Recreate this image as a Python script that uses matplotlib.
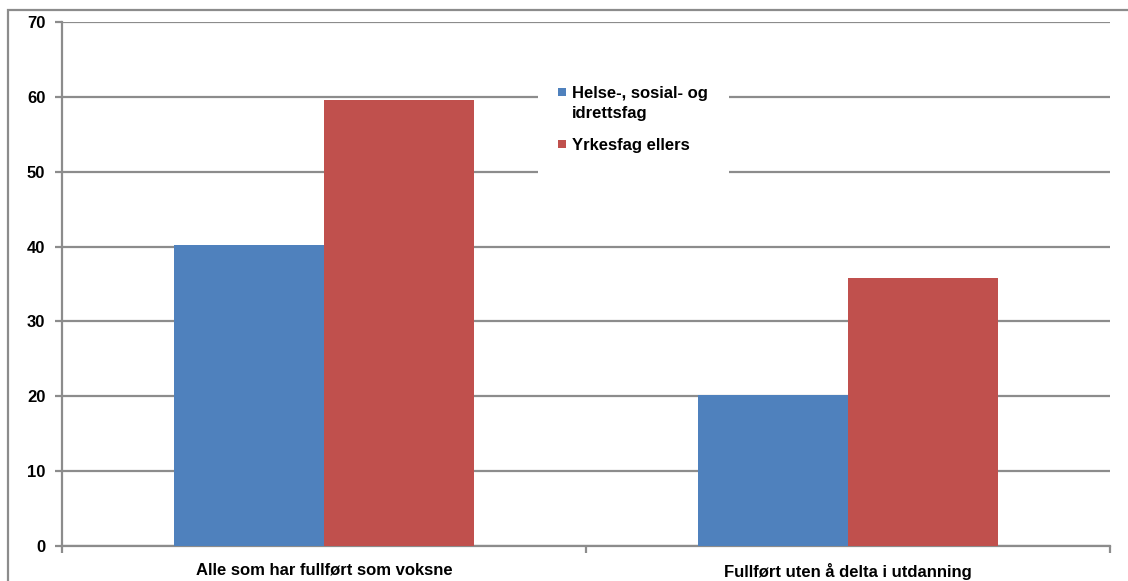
import matplotlib
matplotlib.use("Agg")
import matplotlib.pyplot as plt
from matplotlib.patches import Rectangle
import numpy as np

categories = ["Alle som har fullført som voksne", "Fullført uten å delta i utdanning"]
series_names = ["Helse-, sosial- og\nidrettsfag", "Yrkesfag ellers"]
helse = [40.2, 20.2]
yrkesfag = [59.6, 35.8]
yticks = [0, 10, 20, 30, 40, 50, 60, 70]

colors = ["#4F81BD", "#C0504D"]
grid_color = "#8C8C8C"

plt.rcParams['font.family'] = ['Liberation Sans', 'DejaVu Sans']
FS = 12

W, H = 1128, 581
fig = plt.figure(figsize=(W / 100, H / 100), dpi=100)
ax = fig.add_axes([62 / W, 1 - 546 / H, (1110 - 62) / W, (546 - 22) / H])

x = np.arange(len(categories))
bw = 0.286
b1 = ax.bar(x - bw / 2, helse, bw, color=colors[0], label=series_names[0], zorder=3)
b2 = ax.bar(x + bw / 2, yrkesfag, bw, color=colors[1], label=series_names[1], zorder=3)

ax.set_xlim(-0.5, len(categories) - 0.5)
ax.set_ylim(0, 70)
ax.set_yticks(yticks)
ax.set_yticklabels([str(v) for v in yticks], fontsize=FS, fontweight='bold')
ax.yaxis.grid(True, color=grid_color, linewidth=1.6, zorder=0)
ax.set_axisbelow(True)

ax.set_xticks(x)
ax.set_xticklabels(categories, fontsize=FS, fontweight='bold')
ax.tick_params(axis='x', length=0, pad=12)
ax.set_xticks([-0.5, 0.5, 1.5], minor=True)
ax.tick_params(axis='x', which='minor', length=5, width=1.6, color=grid_color)
ax.tick_params(axis='y', length=5, width=1.6, color=grid_color, pad=7)

for s in ['top', 'right']:
    ax.spines[s].set_visible(False)
for s in ['left', 'bottom']:
    ax.spines[s].set_color(grid_color)
    ax.spines[s].set_linewidth(1.6)

# legend: white box with square markers and labels
def fx(px):
    return px / W

def fy(py):
    return 1 - py / H

box = Rectangle((fx(538), fy(178)), (729 - 538) / W, (178 - 78) / H,
                transform=fig.transFigure, facecolor='white', edgecolor='none', zorder=2)
fig.patches.append(box)

line_centers = [[92, 112], [144]]
for name, col, ys in zip(series_names, colors, line_centers):
    sq = Rectangle((fx(558), fy(ys[0] + 4)), 8 / W, 8 / H, transform=fig.transFigure,
                   facecolor=col, edgecolor='none', zorder=3)
    fig.patches.append(sq)
    for line, yc in zip(name.split('\n'), ys):
        fig.text(fx(572), fy(yc), line, fontsize=FS, fontweight='bold',
                 va='center_baseline', ha='left', zorder=4)

frame = Rectangle((8 / W, -0.1), 1.2, (H - 10) / H + 0.1, transform=fig.transFigure,
                  fill=False, edgecolor=grid_color, linewidth=1.6)
fig.patches.append(frame)

fig.savefig("out.png", dpi=100)
